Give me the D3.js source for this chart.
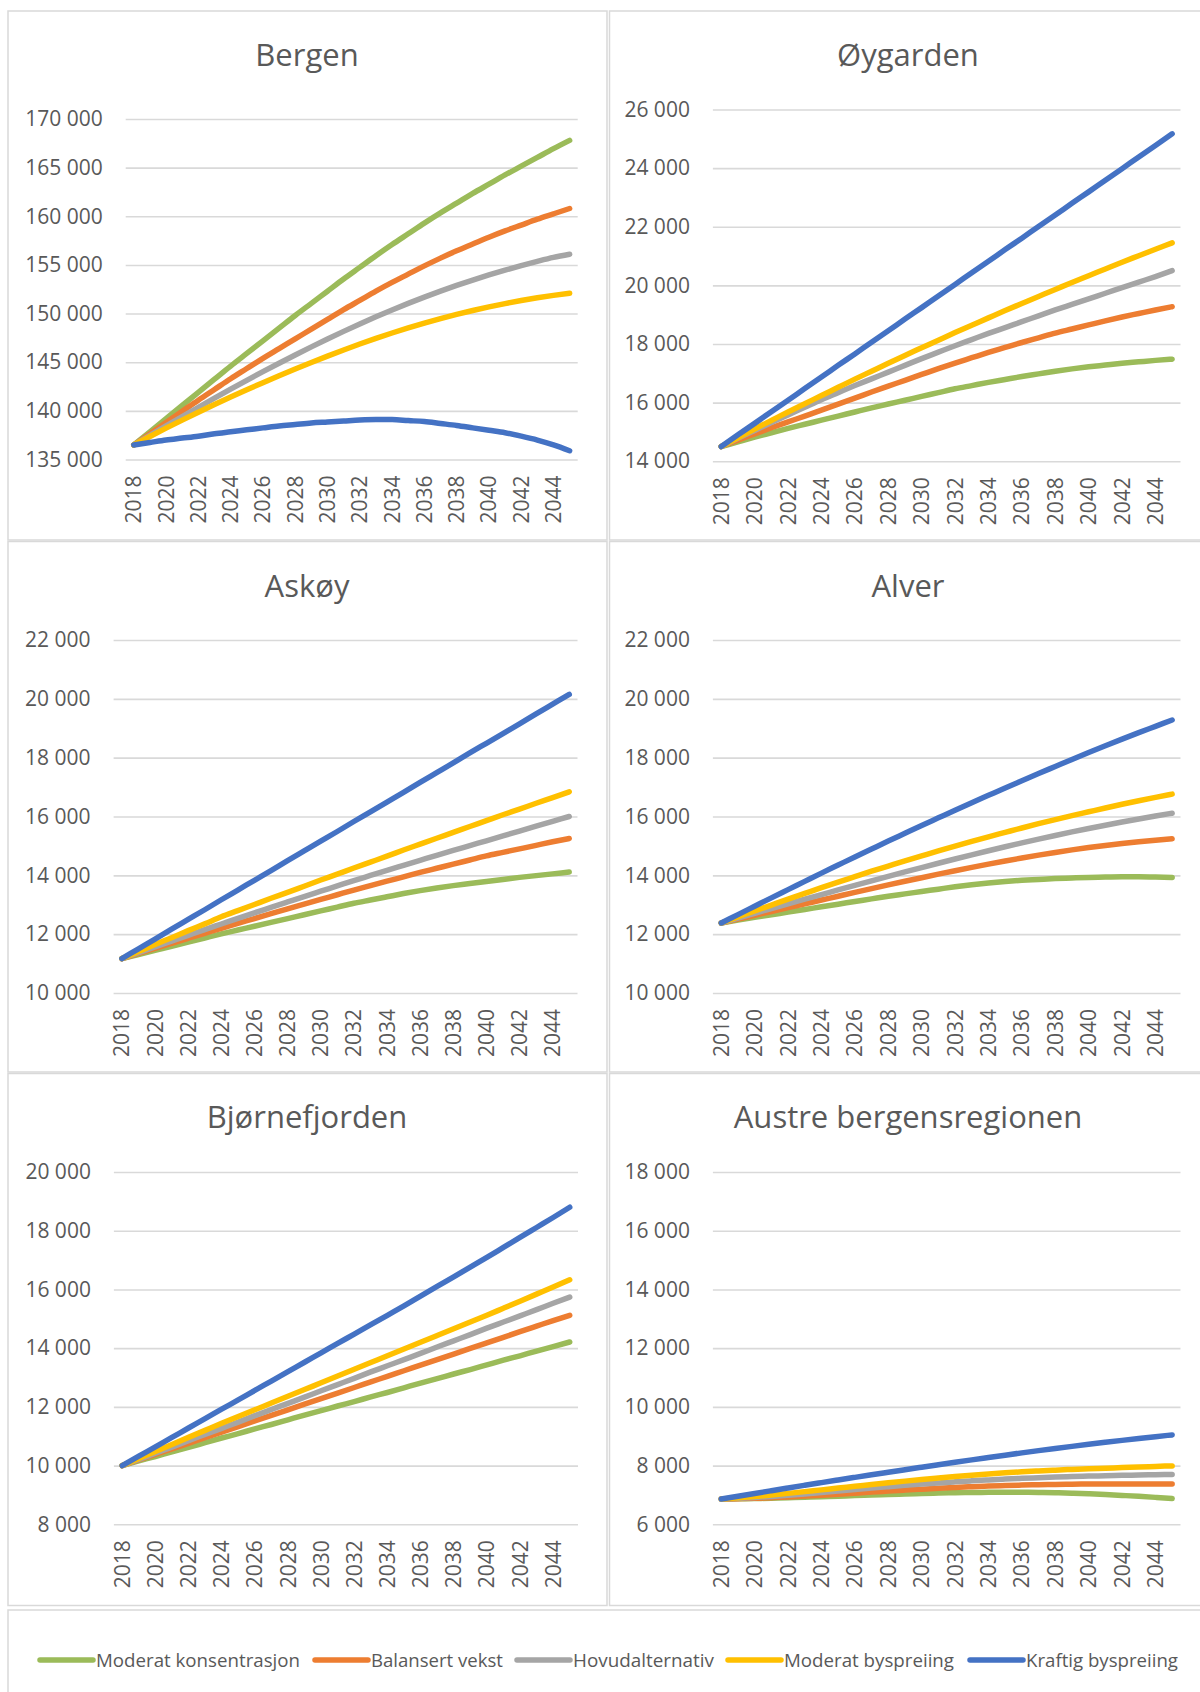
<!DOCTYPE html>
<html>
<head>
<meta charset="utf-8">
<script src="https://cdn.jsdelivr.net/npm/d3@7"></script>
<style>
  html, body { margin: 0; padding: 0; background: #ffffff; }
  svg { display: block; }
  text { font-family: "Open Sans", "Noto Sans", sans-serif; fill: #595959; }
</style>
</head>
<body>
<svg id="chart" width="1200" height="1692"></svg>
<script>
// ---------------- DATA ----------------
const years = [2018,2019,2020,2021,2022,2023,2024,2025,2026,2027,2028,2029,2030,2031,
               2032,2033,2034,2035,2036,2037,2038,2039,2040,2041,2042,2043,2044,2045];
const xTickYears = [2018,2020,2022,2024,2026,2028,2030,2032,2034,2036,2038,2040,2042,2044];

const seriesNames = ["Moderat konsentrasjon","Balansert vekst","Hovudalternativ","Moderat byspreiing","Kraftig byspreiing"];
const seriesColors = ["#9BBB59","#ED7D31","#A5A5A5","#FFC000","#4472C4"];

const regionNames = ["Bergen","Øygarden","Askøy","Alver","Bjørnefjorden","Austre bergensregionen"];

// Y-axis tick values per region
const ticksBergen = [135000,140000,145000,150000,155000,160000,165000,170000];
const ticksOygarden = [14000,16000,18000,20000,22000,24000,26000];
const ticksAskoy = [10000,12000,14000,16000,18000,20000,22000];
const ticksAlver = [10000,12000,14000,16000,18000,20000,22000];
const ticksBjornefjorden = [8000,10000,12000,14000,16000,18000,20000];
const ticksAustre = [6000,8000,10000,12000,14000,16000,18000];

// Bergen
const bergenModeratKons = [136500,137850,139200,140550,141900,143250,144600,145900,147200,148500,149800,151050,152300,153550,154750,155950,157100,158200,159300,160350,161350,162350,163300,164250,165150,166050,166950,167800];
const bergenBalansert   = [136500,137650,138800,139950,141100,142200,143300,144350,145400,146400,147400,148400,149400,150400,151350,152300,153200,154050,154900,155700,156450,157150,157850,158500,159100,159700,160250,160800];
const bergenHovud       = [136500,137480,138450,139410,140360,141300,142225,143135,144025,144895,145745,146575,147385,148170,148930,149665,150370,151045,151690,152305,152890,153445,153970,154465,154930,155365,155770,156100];
const bergenModeratBy   = [136500,137370,138220,139050,139860,140650,141420,142170,142900,143610,144300,144972,145624,146256,146868,147450,148002,148524,149016,149478,149910,150312,150684,151026,151338,151620,151872,152094];
const bergenKraftig     = [136500,136750,137000,137200,137400,137650,137850,138050,138250,138450,138600,138750,138850,138950,139050,139100,139100,139000,138900,138700,138500,138250,138000,137750,137400,137000,136500,135900];

// Øygarden
const oygardenModeratKons = [14500,14660,14820,14970,15120,15260,15400,15540,15680,15820,15950,16080,16210,16340,16470,16580,16690,16790,16890,16980,17070,17150,17220,17280,17340,17390,17440,17480];
const oygardenBalansert   = [14500,14720,14930,15140,15340,15540,15740,15950,16150,16360,16560,16760,16960,17160,17350,17530,17710,17880,18050,18210,18370,18510,18650,18790,18920,19040,19160,19270];
const oygardenHovud       = [14500,14780,15050,15320,15580,15840,16100,16340,16580,16810,17040,17270,17500,17720,17940,18150,18360,18560,18760,18960,19160,19350,19540,19730,19920,20110,20300,20500];
const oygardenModeratBy   = [14500,14800,15100,15390,15680,15960,16240,16520,16800,17070,17340,17610,17870,18130,18390,18640,18890,19140,19380,19620,19860,20100,20330,20560,20790,21010,21230,21450];
const oygardenKraftig     = [14500,14900,15290,15690,16080,16480,16870,17270,17660,18060,18450,18850,19240,19640,20030,20430,20820,21220,21610,22010,22400,22800,23190,23590,23980,24380,24770,25170];

// Askøy
const askoyModeratKons = [11170,11310,11450,11590,11730,11870,12010,12140,12270,12400,12530,12660,12790,12920,13050,13160,13270,13380,13480,13570,13650,13720,13790,13860,13930,13990,14050,14110];
const askoyBalansert   = [11170,11345,11520,11690,11860,12030,12200,12365,12530,12695,12860,13020,13180,13340,13500,13650,13800,13950,14100,14240,14380,14520,14660,14780,14900,15020,15140,15250];
const askoyHovud       = [11170,11370,11570,11765,11960,12155,12345,12535,12725,12910,13095,13280,13460,13640,13820,13995,14170,14340,14510,14680,14845,15010,15175,15340,15505,15670,15835,16000];
const askoyModeratBy   = [11170,11410,11650,11880,12120,12350,12590,12800,13010,13220,13420,13630,13840,14040,14250,14450,14650,14860,15060,15260,15460,15660,15860,16060,16250,16450,16640,16840];
const askoyKraftig     = [11170,11500,11830,12170,12500,12830,13170,13500,13830,14160,14500,14830,15160,15490,15830,16160,16490,16820,17160,17490,17820,18160,18490,18820,19150,19490,19820,20150];

// Alver
const alverModeratKons = [12380,12480,12570,12660,12750,12840,12930,13020,13110,13200,13290,13370,13450,13530,13610,13680,13740,13790,13830,13860,13890,13910,13930,13940,13950,13950,13940,13930];
const alverBalansert   = [12380,12510,12640,12770,12900,13030,13160,13290,13420,13548,13674,13798,13920,14040,14157,14271,14381,14487,14589,14686,14778,14865,14945,15017,15083,15143,15195,15240];
const alverHovud       = [12380,12546,12710,12872,13032,13190,13346,13504,13660,13814,13966,14116,14264,14410,14554,14696,14836,14972,15104,15232,15356,15476,15592,15704,15812,15916,16016,16112];
const alverModeratBy   = [12380,12585,12790,12990,13190,13385,13580,13770,13955,14140,14315,14490,14660,14830,14995,15155,15310,15460,15610,15755,15895,16030,16160,16290,16415,16535,16650,16760];
const alverKraftig     = [12380,12665,12950,13235,13515,13795,14075,14350,14625,14895,15165,15430,15695,15955,16215,16470,16720,16970,17215,17460,17700,17940,18175,18405,18630,18850,19065,19280];

// Bjørnefjorden
const bjornModeratKons = [10000,10160,10310,10470,10620,10780,10940,11090,11250,11400,11560,11720,11870,12030,12180,12340,12490,12650,12810,12960,13120,13270,13430,13590,13740,13900,14050,14210];
const bjornBalansert   = [10000,10190,10380,10570,10760,10950,11140,11330,11520,11710,11900,12090,12280,12470,12660,12850,13040,13230,13420,13610,13800,13990,14180,14370,14560,14750,14940,15120];
const bjornHovud       = [10000,10210,10420,10630,10850,11060,11270,11480,11700,11910,12120,12330,12550,12760,12970,13190,13400,13610,13820,14040,14250,14460,14680,14890,15100,15310,15530,15740];
const bjornModeratBy   = [10000,10240,10480,10720,10960,11200,11440,11670,11900,12130,12360,12590,12820,13050,13280,13510,13740,13970,14200,14430,14660,14890,15120,15360,15600,15840,16080,16330];
const bjornKraftig     = [10000,10320,10640,10960,11280,11600,11920,12240,12560,12880,13200,13520,13840,14160,14480,14800,15120,15440,15770,16100,16430,16760,17090,17430,17770,18110,18450,18800];

// Austre bergensregionen
const austreModeratKons = [6860,6868,6878,6890,6904,6920,6938,6957,6977,6997,7016,7034,7050,7064,7075,7083,7088,7090,7089,7084,7074,7059,7039,7014,6984,6952,6917,6880];
const austreBalansert   = [6860,6872,6888,6908,6932,6960,6991,7024,7060,7096,7131,7165,7197,7227,7255,7280,7302,7321,7337,7349,7359,7367,7372,7375,7376,7376,7374,7370];
const austreHovud       = [6860,6885,6915,6950,6990,7035,7083,7133,7183,7233,7281,7327,7370,7410,7447,7481,7512,7540,7565,7587,7607,7625,7641,7655,7668,7680,7690,7699];
const austreModeratBy   = [6860,6900,6945,6995,7053,7113,7173,7233,7293,7353,7413,7471,7526,7578,7628,7674,7716,7754,7788,7818,7845,7869,7891,7911,7931,7951,7971,7990];
const austreKraftig     = [6860,6955,7050,7144,7237,7329,7420,7510,7599,7687,7774,7860,7945,8029,8112,8194,8275,8355,8433,8509,8583,8655,8725,8793,8859,8923,8985,9045];

// ---------------- LAYOUT ----------------
const regions = [
  { name: regionNames[0], ticks: ticksBergen, series: [bergenModeratKons,bergenBalansert,bergenHovud,bergenModeratBy,bergenKraftig],
    box: [8, 11, 607, 540], title: [307, 66], plot: [125.7, 577.7, 119, 459.5] },
  { name: regionNames[1], ticks: ticksOygarden, series: [oygardenModeratKons,oygardenBalansert,oygardenHovud,oygardenModeratBy,oygardenKraftig],
    box: [609.5, 11, 1215, 540], title: [908, 66], plot: [712.9, 1180.5, 109.5, 461.2] },
  { name: regionNames[2], ticks: ticksAskoy, series: [askoyModeratKons,askoyBalansert,askoyHovud,askoyModeratBy,askoyKraftig],
    box: [8, 541.5, 607, 1072], title: [307, 597], plot: [113.6, 577.5, 640, 993] },
  { name: regionNames[3], ticks: ticksAlver, series: [alverModeratKons,alverBalansert,alverHovud,alverModeratBy,alverKraftig],
    box: [609.5, 541.5, 1215, 1072], title: [908, 597], plot: [712.9, 1180.5, 640, 993] },
  { name: regionNames[4], ticks: ticksBjornefjorden, series: [bjornModeratKons,bjornBalansert,bjornHovud,bjornModeratBy,bjornKraftig],
    box: [8, 1073.5, 607, 1605.5], title: [307, 1128], plot: [113.9, 578, 1172, 1524.3] },
  { name: regionNames[5], ticks: ticksAustre, series: [austreModeratKons,austreBalansert,austreHovud,austreModeratBy,austreKraftig],
    box: [609.5, 1073.5, 1215, 1605.5], title: [908, 1128], plot: [712.9, 1180.5, 1172, 1524.3] }
];

const nb = d3.formatLocale({ decimal: ",", thousands: "\u00a0", grouping: [3], currency: ["", " kr"] });
const fmt = nb.format(",d");

const svg = d3.select("#chart");
svg.append("rect").attr("width", 1200).attr("height", 1692).attr("fill", "#ffffff");

regions.forEach(r => {
  const g = svg.append("g");
  const [bx0, by0, bx1, by1] = r.box;
  g.append("rect").attr("x", bx0).attr("y", by0).attr("width", bx1 - bx0).attr("height", by1 - by0)
    .attr("fill", "#ffffff").attr("stroke", "#d9d9d9").attr("stroke-width", 1.5);

  g.append("text").attr("x", r.title[0]).attr("y", r.title[1])
    .attr("text-anchor", "middle").attr("font-size", 31).text(r.name);

  const [px0, px1, py0, py1] = r.plot;
  const x = d3.scaleBand().domain(years).range([px0, px1]);
  const y = d3.scaleLinear().domain([d3.min(r.ticks), d3.max(r.ticks)]).range([py1, py0]);
  const cx = d => x(d) + x.bandwidth() / 2;

  // gridlines + y labels via axis
  const yAxis = d3.axisLeft(y).tickValues(r.ticks).tickFormat(fmt).tickSize(-(px1 - px0)).tickPadding(23);
  const ya = g.append("g").attr("transform", `translate(${px0},0)`).call(yAxis);
  ya.select(".domain").remove();
  ya.selectAll(".tick line").attr("stroke", "#d9d9d9").attr("stroke-width", 1.6);
  ya.selectAll(".tick text").attr("font-size", 21).attr("fill", "#595959")
    .style("font-family", '"Open Sans", "Noto Sans", sans-serif');

  // x labels via axis
  const xAxis = d3.axisBottom(x).tickValues(xTickYears).tickSize(0).tickPadding(0);
  const xa = g.append("g").attr("transform", `translate(0,${py1})`).call(xAxis);
  xa.select(".domain").remove();
  xa.selectAll(".tick text")
    .attr("font-size", 21).attr("fill", "#595959")
    .style("font-family", '"Open Sans", "Noto Sans", sans-serif')
    .attr("text-anchor", "end")
    .attr("transform", "translate(0,16) rotate(-90)")
    .attr("x", 0).attr("y", 0).attr("dy", "0.36em");

  const line = d3.line().x((d, i) => cx(years[i])).y(d => y(d)).curve(d3.curveMonotoneX);
  r.series.forEach((s, i) => {
    g.append("path").datum(s).attr("d", line)
      .attr("fill", "none").attr("stroke", seriesColors[i]).attr("stroke-width", 5.5)
      .attr("stroke-linecap", "round").attr("stroke-linejoin", "round");
  });
});

// ---------------- LEGEND ----------------
const legendBox = [8, 1610, 1215, 1720];
svg.append("rect").attr("x", legendBox[0]).attr("y", legendBox[1])
  .attr("width", legendBox[2] - legendBox[0]).attr("height", legendBox[3] - legendBox[1])
  .attr("fill", "#ffffff").attr("stroke", "#d9d9d9").attr("stroke-width", 1.5);

const legendLineX = [40, 315, 517, 728, 970];
const legendTextW = [204, 132, 141, 170, 152];
const ly = 1660;
seriesNames.forEach((n, i) => {
  const lg = svg.append("g");
  lg.append("line").attr("x1", legendLineX[i]).attr("x2", legendLineX[i] + 53).attr("y1", ly).attr("y2", ly)
    .attr("stroke", seriesColors[i]).attr("stroke-width", 5.5).attr("stroke-linecap", "round");
  lg.append("text").attr("x", legendLineX[i] + 56).attr("y", ly).attr("dy", "0.35em")
    .attr("font-size", 19).attr("textLength", legendTextW[i]).attr("lengthAdjust", "spacingAndGlyphs")
    .text(n);
});
</script>
</body>
</html>
